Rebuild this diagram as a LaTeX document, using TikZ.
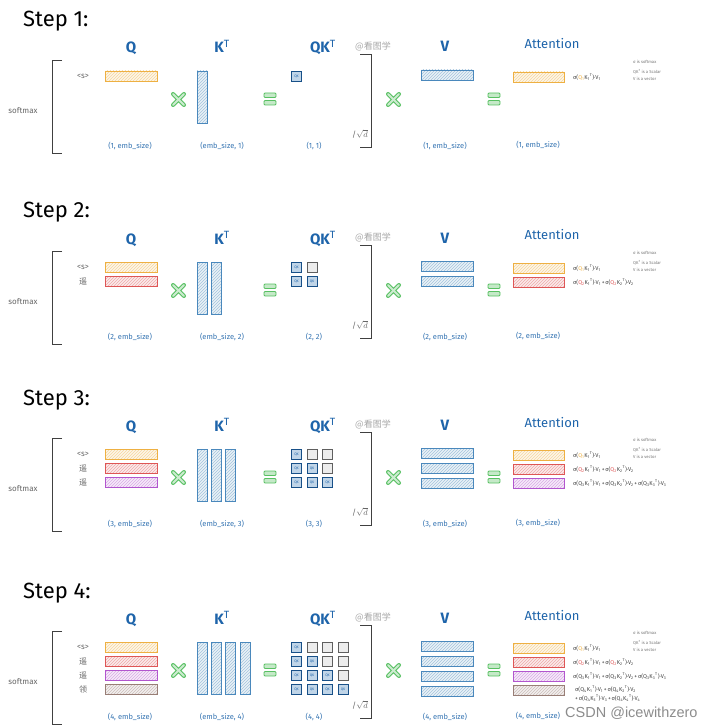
\documentclass[tikz,border=0pt]{standalone}
\usepackage{fontspec}
\setmainfont{Fira Sans}
\newfontfamily\cjk{Noto Sans CJK SC}
\newfontfamily\csdn{Liberation Sans}
\usetikzlibrary{patterns}

\definecolor{rowA}{RGB}{238,176,66}
\definecolor{rowB}{RGB}{222,86,86}
\definecolor{rowC}{RGB}{178,86,206}
\definecolor{rowD}{RGB}{152,126,118}
\definecolor{kblue}{RGB}{74,136,188}
\definecolor{labblue}{RGB}{30,100,170}
\definecolor{opgreen}{RGB}{88,192,98}
\definecolor{cellgray}{RGB}{95,95,95}

\newcommand\sterm[3]{σ(\textcolor{#1}{Q\textsubscript{#2}}K\textsubscript{#3}\textsuperscript{T})·V\textsubscript{#3}}
\newcommand\splus{\kern0.8pt+\kern0.8pt}

\begin{document}
\begin{tikzpicture}[x=1pt,y=-1pt,
  matbar/.style={draw=#1, line width=0.8pt, preaction={fill=#1!12}, pattern=north east lines, pattern color=#1!50},
  bracket/.style={draw=black!75, line width=0.9pt},
  opcross/.style={draw=opgreen, line width=4pt, line cap=round},
  opcrossin/.style={draw=opgreen!30, line width=1.8pt, line cap=round},
  opeq/.style={draw=opgreen, fill=opgreen!35, line width=0.8pt, rounded corners=1pt},
  steptitle/.style={anchor=base west, inner sep=0pt, font=\fontsize{22}{24}\selectfont},
  matlabel/.style={anchor=base, inner sep=0pt, text=labblue, font=\fontsize{15}{16}\selectfont\bfseries},
  dimlabel/.style={inner sep=0pt, text=labblue!90, font=\fontsize{7.5}{8}\selectfont},
  rowword/.style={inner sep=0pt, text=black!60, font=\fontsize{8}{9}\selectfont},
  qkcell/.style={draw=labblue!80!black, fill=kblue!35, line width=0.8pt, minimum size=10pt, inner sep=0pt, text=labblue, font=\fontsize{3.5}{4}\selectfont},
  emptycell/.style={draw=cellgray, fill=gray!15, line width=0.8pt, minimum size=10pt, inner sep=0pt},
  formula/.style={anchor=west, inner sep=0pt, text=black!75, font=\fontsize{5.6}{7}\selectfont},
  note/.style={anchor=west, inner sep=0pt, text=black!55, font=\fontsize{4.2}{5}\selectfont},
  wmark/.style={inner sep=0pt, text=black!35, font=\cjk\fontsize{9}{10}\selectfont}]
\useasboundingbox (0,0) rectangle (723,727);

\foreach \n/\dy in {1/0,2/191,3/378,4/571}{
\begin{scope}[shift={(0,\dy)}]
\node[steptitle] (step\n) at (23,27) {Step \n:};
\node[matlabel] (q\n) at (131,53) {Q};
\node[matlabel] (kt\n) at (222,53) {K\textsuperscript{\mdseries T}};
\node[matlabel] (qkt\n) at (323,53) {QK\textsuperscript{\mdseries T}};
\node[matlabel] (v\n) at (445,52) {V};
\node[matlabel, font=\fontsize{13}{14}\selectfont] (att\n) at (552,49) {Attention};
\node[wmark] (wm\n) at (373,46) {@看图学};

\draw[bracket] (62,60) -- (52,60) -- (52,153) -- (62,153);
\node[rowword] (soft\n) at (23,111) {softmax};
\draw[bracket] (360,54) -- (371,54) -- (371,147) -- (360,147);
\node[rowword] (sqd\n) at (360,134) {/$\sqrt{d}$};

\foreach \i/\w/\rc in {1/{<s>}/rowA,2/{\cjk 遥}/rowB,3/{\cjk 遥}/rowC,4/{\cjk 领}/rowD}{
  \ifnum\i>\n\else
  \node[rowword] (w\n-\i) at (83,{76+14*(\i-1)}) {\w};
  \draw[matbar=\rc] (105,{71+14*(\i-1)}) rectangle ++(52,10);
  \draw[matbar=kblue] ({197+14.4*(\i-1)},71) rectangle ++(10,52);
  \draw[matbar=kblue] (421,{70+15*(\i-1)}) rectangle ++(52,10);
  \draw[matbar=\rc] (513,{72+14*(\i-1)}) rectangle ++(51,10);
  \foreach \j in {1,...,\n}{
    \ifnum\j>\i
      \node[emptycell] (qk\n-\i-\j) at ({296.5+15.5*(\j-1)},{76.5+14*(\i-1)}) {};
    \else
      \node[qkcell] (qk\n-\i-\j) at ({296.5+15.5*(\j-1)},{76.5+14*(\i-1)}) {QK};
    \fi
  }
  \fi
}

\draw[opcross] (173,94) -- (184,105) (173,105) -- (184,94);
\draw[opcrossin] (173,94) -- (184,105) (173,105) -- (184,94);
\draw[opeq] (264,93) rectangle (276,97.5) (264,100.5) rectangle (276,105);
\draw[opcross] (388,94) -- (399,105) (388,105) -- (399,94);
\draw[opcrossin] (388,94) -- (399,105) (388,105) -- (399,94);
\draw[opeq] (488,93) rectangle (500,97.5) (488,100.5) rectangle (500,105);

\node[dimlabel] (dq\n) at (130,146) {(\n, emb\_size)};
\node[dimlabel] (dk\n) at (222,146) {(emb\_size, \n)};
\node[dimlabel] (dqk\n) at (314,146) {(\n, \n)};
\node[dimlabel] (dv\n) at (445,146) {(\n, emb\_size)};
\node[dimlabel] (da\n) at (538,145) {(\n, emb\_size)};

\node[note] (nt\n-1) at (633,62) {σ is softmax};
\node[note] (nt\n-2) at (633,72) {QK\textsuperscript{T} is a Scalar};
\node[note] (nt\n-3) at (633,79) {V is a vector};
\end{scope}
}

\node[formula] (f1-1) at (573,77) {\sterm{rowA}{1}{1}};

\node[formula] (f2-1) at (573,268) {\sterm{rowA}{1}{1}};
\node[formula] (f2-2) at (573,282) {\sterm{rowB}{2}{1}\splus\sterm{rowB}{2}{2}};

\node[formula] (f3-1) at (573,455) {\sterm{rowA}{1}{1}};
\node[formula] (f3-2) at (573,469) {\sterm{rowB}{2}{1}\splus\sterm{rowB}{2}{2}};
\node[formula] (f3-3) at (573,483) {\sterm{black!75}{3}{1}\splus\sterm{black!75}{3}{2}\splus\sterm{black!75}{3}{3}};

\node[formula] (f4-1) at (573,648) {\sterm{rowA}{1}{1}};
\node[formula] (f4-2) at (573,662) {\sterm{rowB}{2}{1}\splus\sterm{rowB}{2}{2}};
\node[formula] (f4-3) at (573,676) {\sterm{black!75}{3}{1}\splus\sterm{black!75}{3}{2}\splus\sterm{black!75}{3}{3}};
\node[formula] (f4-4) at (575,689) {\sterm{black!75}{4}{1}\splus\sterm{black!75}{4}{2}};
\node[formula] (f4-5) at (575,698) {+\kern0.8pt\sterm{black!75}{4}{3}\splus\sterm{black!75}{4}{4}};

\node[anchor=base west, inner sep=0pt, text=black!45, font=\csdn\fontsize{14.5}{16}\selectfont] (csdn) at (565,717) {CSDN @icewithzero};
\end{tikzpicture}
\end{document}
